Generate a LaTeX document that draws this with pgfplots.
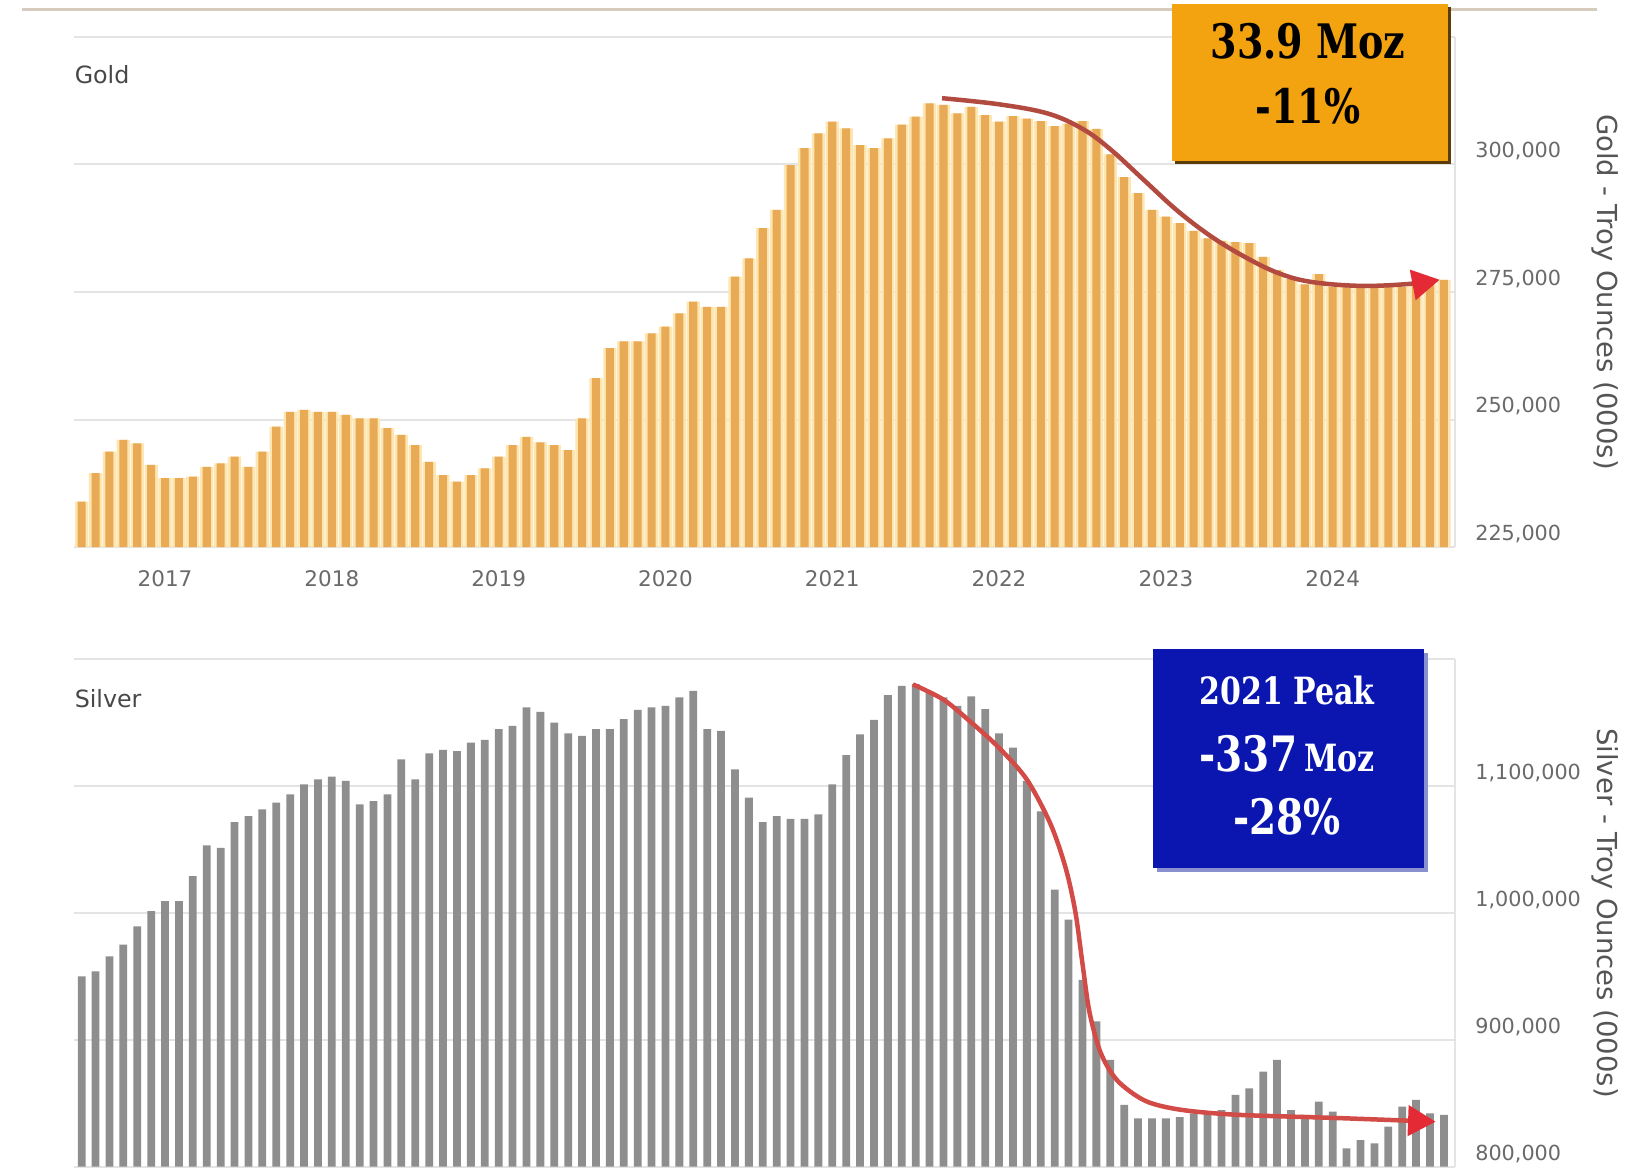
\documentclass[border=0pt]{standalone}
\usepackage{pgfplots}
\pgfplotsset{compat=1.18}
\usepackage{pgfplotstable}
\usepackage{fontspec}
\setmainfont{DejaVu Sans}
\newfontfamily\slab{DejaVu Serif}[FakeStretch=0.8]
\usetikzlibrary{arrows.meta}

\definecolor{goldbar}{HTML}{E9AA55}
\definecolor{goldpale}{HTML}{FDE6B2}
\definecolor{silverbar}{HTML}{8E8E8E}
\definecolor{gridc}{HTML}{E4E4E4}
\definecolor{tickc}{HTML}{6A6A6A}
\definecolor{labc}{HTML}{555555}
\definecolor{framec}{HTML}{D5CCBE}
\definecolor{goldbox}{HTML}{F2A30F}
\definecolor{goldshadow}{HTML}{5C3D0A}
\definecolor{silverbox}{HTML}{0B16B0}
\definecolor{silvershadow}{HTML}{8890D0}
\definecolor{goldcurve}{HTML}{B24A40}
\definecolor{silvercurve}{HTML}{D24B47}
\definecolor{arrowred}{HTML}{E42A35}

% monthly stocks, Jul 2016 = 0 ... Sep 2024 = 98
\pgfplotstableread{
i v
0 233900
1 239500
2 243700
3 246000
4 245300
5 241100
6 238500
7 238500
8 238800
9 240700
10 241400
11 242700
12 240700
13 243700
14 248600
15 251500
16 251900
17 251500
18 251500
19 250900
20 250200
21 250200
22 248300
23 247000
24 245000
25 241700
26 239100
27 237800
28 239100
29 240400
30 242700
31 245000
32 246600
33 245500
34 245000
35 244000
36 250200
37 258100
38 264000
39 265300
40 265300
41 266900
42 268200
43 270800
44 273100
45 272100
46 272100
47 278000
48 281600
49 287500
50 291100
51 299900
52 303200
53 306100
54 308400
55 307100
56 303800
57 303200
58 305100
59 307800
60 309400
61 312000
62 311700
63 310000
64 311300
65 309700
66 308400
67 309500
68 309000
69 308500
70 307500
71 308000
72 308500
73 307000
74 302000
75 297500
76 294400
77 291100
78 289800
79 288500
80 287000
81 285500
82 285000
83 284800
84 284600
85 281900
86 279300
87 277500
88 276500
89 278500
90 276000
91 276000
92 276000
93 276000
94 276000
95 276000
96 276500
97 276500
98 277400
}\golddata

\pgfplotstableread{
i v
0 950000
1 953900
2 965800
3 975000
4 989400
5 1001300
6 1009200
7 1009200
8 1028900
9 1053100
10 1051300
11 1071500
12 1076300
13 1081500
14 1086800
15 1093400
16 1101300
17 1105200
18 1107300
19 1103900
20 1085500
21 1088100
22 1093400
23 1121000
24 1105200
25 1125700
26 1128400
27 1127500
28 1134100
29 1136200
30 1144700
31 1147300
32 1161800
33 1158300
34 1149900
35 1141500
36 1139400
37 1144700
38 1144700
39 1152600
40 1159900
41 1161800
42 1163100
43 1169700
44 1174900
45 1144700
46 1143300
47 1113100
48 1090700
49 1071500
50 1076300
51 1074100
52 1074100
53 1077600
54 1101300
55 1124200
56 1140700
57 1152000
58 1171500
59 1178900
60 1180200
61 1173600
62 1169700
63 1163000
64 1170500
65 1160500
66 1141500
67 1130200
68 1103900
69 1080000
70 1018400
71 994700
72 947300
73 914500
74 884200
75 848700
76 838200
77 838200
78 838200
79 839000
80 842100
81 842100
82 844700
83 856600
84 861800
85 875000
86 884200
87 844700
88 840800
89 851300
90 843400
91 814500
92 821000
93 818400
94 831600
95 847400
96 852600
97 842000
98 840800
}\silverdata

\pgfplotsset{
  panel/.style={
    scale only axis,
    anchor=north west,
    width=552.4pt,
    xmin=-0.55, xmax=98.8,
    scaled y ticks=false,
    separate axis lines,
    axis x line*=bottom,
    axis y line*=right,
    x axis line style={draw=none},
    y axis line style={draw=gridc, line width=0.8pt, -},
    major tick length=0pt,
    ymajorgrids,
    major grid style={draw=gridc, line width=0.8pt},
    yticklabel style={font=\fontsize{8.3}{10}\selectfont, text=tickc,
      anchor=west, xshift=4.6pt, yshift=5.2pt},
    xticklabel style={font=\fontsize{8.6}{10}\selectfont, text=tickc, yshift=-6pt},
  },
}

\begin{document}
\begin{tikzpicture}
\path[use as bounding box] (0,0) rectangle (660.8pt,-468pt);
\fill[white] (0,0) rectangle (660.8pt,-468pt);
\draw[framec, line width=1.2pt] (8.8pt,-3.8pt) -- (638.8pt,-3.8pt);

% gold panel
\begin{axis}[panel, name=gold, at={(29.6pt,-14.8pt)}, height=204pt,
  ymin=225000, ymax=325000,
  ytick={225000,250000,275000,300000,325000},
  yticklabels={{225,000},{250,000},{275,000},{300,000},{}},
  xtick={6,18,30,42,54,66,78,90},
  xticklabels={2017,2018,2019,2020,2021,2022,2023,2024},
]
\addplot[ybar, bar width=0.95, bar shift=0pt, fill=goldpale, draw=none] table[x=i,y=v]{\golddata};
\addplot[ybar, bar width=0.58, bar shift=0pt, fill=goldbar, draw=none] table[x=i,y=v]{\golddata};
\addplot[smooth, tension=0.6, no marks, goldcurve, line width=1.8pt,
  -{Triangle[length=11pt,width=12pt,color=arrowred]}] coordinates {
  (61.9,313000) (66,311800) (69.5,310000) (72,307000) (74,303000)
  (76.4,297000) (78.8,291000) (81.2,286000) (83.6,282000) (86,278800)
  (88.4,277000) (92,276200) (95.6,276600) (97.7,277400)};
\end{axis}

% silver panel
\begin{axis}[panel, name=silver, at={(29.6pt,-263.6pt)}, height=203.1pt,
  ymin=800000, ymax=1200000,
  ytick={800000,900000,1000000,1100000,1200000},
  yticklabels={{800,000},{900,000},{1,000,000},{1,100,000},{}},
  xtick=\empty,
]
\addplot[ybar, bar width=0.56, bar shift=0pt, fill=silverbar, draw=none] table[x=i,y=v]{\silverdata};
\addplot[smooth, tension=0.5, no marks, silvercurve, line width=1.8pt,
  -{Triangle[length=11pt,width=12pt,color=arrowred]}] coordinates {
  (59.8,1180000) (62,1168000) (64,1150000) (66,1130000) (68,1105000)
  (69.7,1070000) (70.8,1035000) (71.5,1000000) (72.0,960000) (72.5,922000)
  (73.3,890000) (74.5,868000) (76.5,852000) (79,845000) (83,841000)
  (90,838500) (97.4,835500)};
\end{axis}

% panel titles and axis labels
\node[anchor=west, inner sep=0pt, text=labc!85!black, font=\fontsize{9.5}{11}\selectfont] at (29.7pt,-29.8pt) {Gold};
\node[anchor=west, inner sep=0pt, text=labc!85!black, font=\fontsize{9.5}{11}\selectfont] at (29.7pt,-279.6pt) {Silver};
\node[rotate=-90, text=labc, font=\fontsize{11}{12}\selectfont] at (642pt,-116.8pt) {Gold - Troy Ounces (000s)};
\node[rotate=-90, text=labc, font=\fontsize{11}{12}\selectfont] at (642pt,-365.2pt) {Silver - Troy Ounces (000s)};

% gold call-out
\fill[goldshadow] (470pt,-2.8pt) rectangle (580.4pt,-65.6pt);
\fill[goldbox] (468.8pt,-1.6pt) rectangle (579.2pt,-64.4pt);
\node[text=black, font=\slab\bfseries\fontsize{19}{20}\selectfont] at (523.2pt,-16.4pt) {33.9 Moz};
\node[text=black, font=\slab\bfseries\fontsize{19}{20}\selectfont] at (523.2pt,-42.4pt) {-11\%};

% silver call-out
\fill[silvershadow] (462.6pt,-261pt) rectangle (571pt,-348.6pt);
\fill[silverbox] (461.2pt,-259.6pt) rectangle (569.6pt,-347.2pt);
\node[text=white, font=\slab\bfseries\fontsize{15}{16}\selectfont] at (514.8pt,-276.4pt) {2021 Peak};
\node[text=white, font=\slab\bfseries] at (514.8pt,-301.6pt) {{\fontsize{19.5}{20}\selectfont -337} {\fontsize{15}{16}\selectfont Moz}};
\node[text=white, font=\slab\bfseries\fontsize{19.5}{20}\selectfont] at (514.8pt,-326.8pt) {-28\%};
\end{tikzpicture}
\end{document}
